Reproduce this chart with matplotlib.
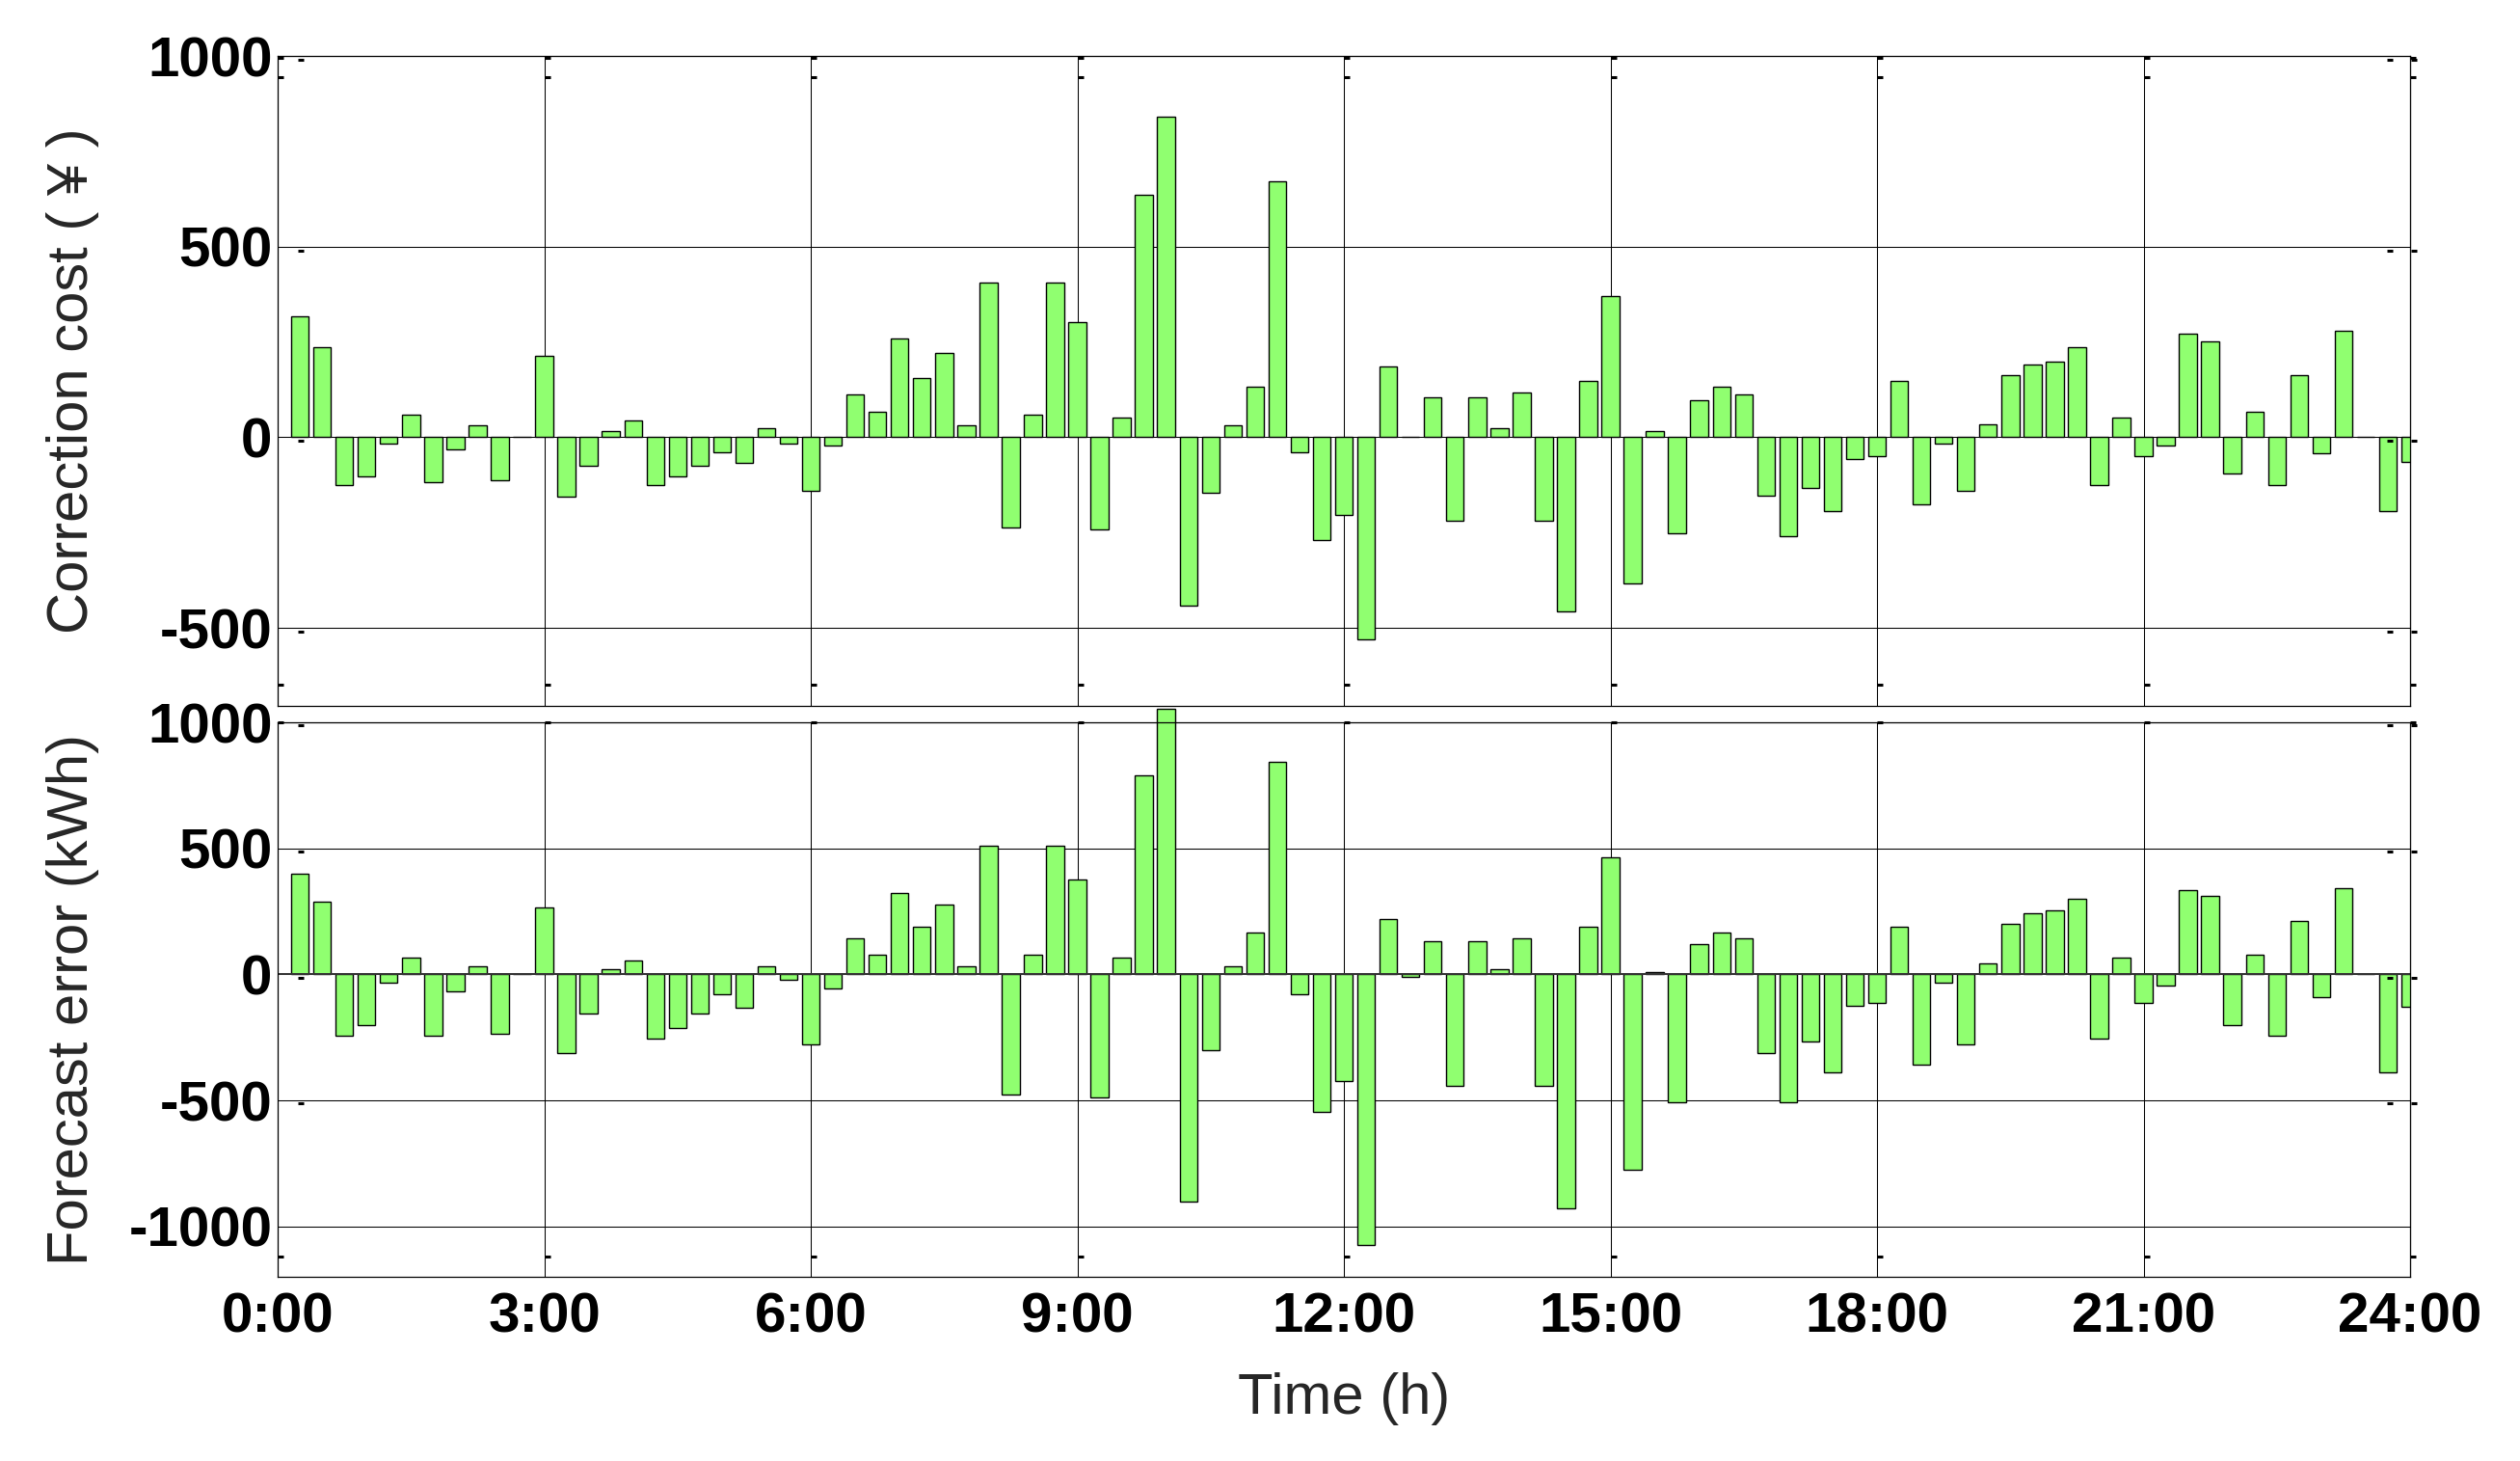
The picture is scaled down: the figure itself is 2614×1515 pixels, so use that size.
import matplotlib
matplotlib.use('Agg')
import matplotlib.pyplot as plt
import matplotlib.transforms as mtransforms
import numpy as np

plt.rcParams['font.family'] = ['Liberation Sans', 'Noto Sans CJK SC', 'DejaVu Sans']
plt.rcParams['axes.unicode_minus'] = False

# 96 quarter-hour intervals, bar k drawn at k*0.25 h
slots = np.arange(1, 97) * 0.25

correction_cost = [317, 236, -125, -104, -16, 58, -119, -31, 31, -112, 0, 213,
                   -155, -74, 15, 43, -125, -104, -74, -39, -67, 23, -16, -141,
                   -23, 111, 66, 259, 155, 221, 31, 406, -236, 58, 406, 302,
                   -243, 51, 635, 840, -441, -146, 31, 132, 670, -39, -271, -205,
                   -530, 185, 0, 104, -220, 104, 23, 117, -220, -457, 147, 369,
                   -383, 15, -251, 96, 132, 111, -154, -259, -132, -193, -58, -50,
                   147, -177, -16, -141, 35, 162, 190, 198, 236, -125, 51, -50,
                   -23, 272, 252, -96, 66, -125, 162, -43, 279, 0, -193, -66]

forecast_error = [399, 288, -243, -201, -33, 67, -243, -67, 32, -235, 0, 266,
                  -311, -155, 21, 55, -254, -212, -155, -78, -132, 32, -21, -277,
                  -55, 143, 78, 323, 189, 277, 32, 510, -476, 78, 510, 377,
                  -487, 67, 789, 1054, -900, -300, 32, 166, 843, -78, -545, -423,
                  -1075, 220, -10, 132, -444, 132, 21, 143, -444, -930, 189, 464,
                  -777, 10, -509, 120, 166, 143, -311, -509, -265, -388, -124, -113,
                  189, -357, -33, -277, 44, 201, 243, 254, 300, -254, 67, -113,
                  -44, 334, 312, -200, 78, -243, 212, -89, 342, 0, -388, -130]

hour_ticks = np.arange(0, 25, 3)
hour_labels = ['0:00', '3:00', '6:00', '9:00', '12:00', '15:00', '18:00', '21:00', '24:00']
cost_ticks = [-500, 0, 500, 1000]
error_ticks = [-1000, -500, 0, 500, 1000]

bar_color = '#90FF70'
width = 0.2

fig = plt.figure(figsize=(26.14, 15.15), dpi=100)
ax1 = fig.add_axes([0.1102, 0.5168, 0.8462, 0.4449])
ax2 = fig.add_axes([0.1102, 0.1261, 0.8462, 0.3795])


def style_axes(ax, yticks, ylim):
    ax.set_xlim(0, 24)
    ax.set_ylim(*ylim)
    ax.set_xticks(hour_ticks)
    ax.set_yticks(yticks)
    ax.set_axisbelow(True)
    ax.grid(True, color='black', linewidth=0.75)
    for sp in ax.spines.values():
        sp.set_linewidth(0.9)
    ax.tick_params(direction='in', length=0, labelsize=42, pad=4)
    for lab in ax.get_yticklabels() + ax.get_xticklabels():
        lab.set_fontweight('bold')


def artifact_marks(ax, yticks, xfrac_rows):
    # little dash marks that the original figure shows along the frame
    tx = mtransforms.blended_transform_factory(ax.transData, ax.transAxes)
    for yf in xfrac_rows:
        ax.plot(hour_ticks + 0.035, [yf] * len(hour_ticks), ls='none', marker='_',
                ms=4.5, mew=2.2, color='black', transform=tx, clip_on=False)
    span = ax.get_ylim()[1] - ax.get_ylim()[0]
    for xv in (0.26, 23.77, 24.04):
        ax.plot([xv] * len(yticks), np.array(yticks) - 0.006 * span,
                ls='none', marker='_', ms=4.5, mew=2.2, color='black', clip_on=False)


def draw_bars(ax, values):
    rects = ax.bar(slots, values, width, color=bar_color, edgecolor='black', linewidth=1.0)
    top = ax.get_ylim()[1]
    for r, v in zip(rects, values):
        if v > top:
            r.set_clip_on(False)


style_axes(ax1, cost_ticks, (-705, 1000))
style_axes(ax2, error_ticks, (-1200, 1000))

draw_bars(ax1, correction_cost)
draw_bars(ax2, forecast_error)
ax2.axhline(0, color='#333333', linewidth=1.4, zorder=2.5)

artifact_marks(ax1, cost_ticks, [0.997, 0.967, 0.033])
artifact_marks(ax2, error_ticks[1:], [1.0, 0.037])

ax1.set_xticklabels([])
ax2.set_xticklabels(hour_labels)
ax2.tick_params(axis='x', pad=11)
for lab in ax2.get_xticklabels():
    lab.set_fontweight('bold')

ax1.set_ylabel('Correction cost ( ¥ )', fontsize=43, color='#262626')
ax1.yaxis.label.set_va('center')
ax1.yaxis.set_label_coords(-0.0963, 0.5)
ax2.set_ylabel('Forecast error (kWh)', fontsize=43, color='#262626')
ax2.yaxis.label.set_va('center')
ax2.yaxis.set_label_coords(-0.0963, 0.5)
ax2.set_xlabel('Time (h)', fontsize=43, color='#262626')
ax2.xaxis.set_label_coords(0.5, -0.172)

fig.savefig('out.png', dpi=100)
